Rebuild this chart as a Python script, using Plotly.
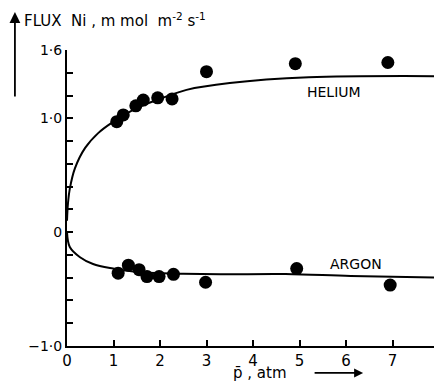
import plotly.graph_objects as go

# Measured points
helium_x = [1.07, 1.21, 1.48, 1.64, 1.95, 2.26, 3.0, 4.91, 6.9]
helium_y = [0.97, 1.03, 1.11, 1.16, 1.18, 1.17, 1.41, 1.48, 1.49]
argon_x = [1.10, 1.32, 1.55, 1.72, 1.98, 2.29, 2.98, 4.94, 6.95]
argon_y = [-0.36, -0.29, -0.33, -0.39, -0.39, -0.37, -0.44, -0.32, -0.465]

# Fitted curves
helium_curve_x = [0, 0.02, 0.06, 0.17, 0.39, 0.67, 0.96, 1.5, 2.0, 2.57, 3.5, 5.2, 8.0]
helium_curve_y = [0.1, 0.25, 0.38, 0.56, 0.74, 0.87, 0.96, 1.09, 1.17, 1.25, 1.31, 1.36, 1.37]
argon_curve_x = [0, 0.06, 0.28, 0.56, 0.99, 1.5, 2.5, 3.3, 4.7, 6.1, 8.0]
argon_curve_y = [0.0, -0.13, -0.22, -0.28, -0.32, -0.35, -0.365, -0.37, -0.368, -0.385, -0.40]

# Ticks
x_ticks = [0, 1, 2, 3, 4, 5, 6, 7, 8]
y_ticks = [-1.0, -0.8, -0.6, -0.4, -0.2, 0, 0.2, 0.4, 0.6, 0.8, 1.0, 1.2, 1.4, 1.6]
y_tick_labels = ["−1·0", "", "", "", "", "0", "", "", "", "", "1·0", "", "", "1·6"]

FONT = "DejaVu Sans"

fig = go.Figure()
fig.add_trace(go.Scatter(x=helium_curve_x, y=helium_curve_y, mode="lines",
                         line=dict(color="black", width=2, shape="spline"), showlegend=False))
fig.add_trace(go.Scatter(x=argon_curve_x, y=argon_curve_y, mode="lines",
                         line=dict(color="black", width=2, shape="spline"), showlegend=False))
fig.add_trace(go.Scatter(x=helium_x, y=helium_y, mode="markers",
                         marker=dict(color="black", size=13), showlegend=False))
fig.add_trace(go.Scatter(x=argon_x, y=argon_y, mode="markers",
                         marker=dict(color="black", size=13), showlegend=False))

# page body has an 8px default margin, so offsets compensate for it
fig.update_layout(
    width=442, height=392,
    margin=dict(l=59, r=11, t=42, b=54),
    paper_bgcolor="white", plot_bgcolor="white",
    font=dict(family=FONT, color="black", size=13),
    xaxis=dict(range=[0, 8], tickvals=x_ticks, ticktext=[str(v) for v in x_ticks],
               automargin=False,
               showgrid=False, zeroline=False, showline=True, linecolor="black", linewidth=2,
               ticks="inside", ticklen=6, tickwidth=1.5, tickcolor="black",
               tickfont=dict(size=15, family=FONT)),
    yaxis=dict(range=[-1.0, 1.6], tickvals=y_ticks, ticktext=y_tick_labels,
               automargin=False, ticklabelstandoff=0,
               showgrid=False, zeroline=False, showline=True, linecolor="black", linewidth=2,
               ticks="inside", ticklen=6, tickwidth=1.5, tickcolor="black",
               tickfont=dict(size=14, family=FONT)),
    annotations=[
        dict(text="FLUX  Ni , m mol  m<sup>-2</sup> s<sup>-1</sup>", xref="paper", yref="paper",
             x=-0.121, y=1.102, xanchor="left", yanchor="middle", showarrow=False,
             font=dict(size=15, family=FONT)),
        dict(text="", xref="paper", yref="paper", x=-0.14, y=1.128, ax=0, ay=86,
             showarrow=True, arrowhead=2, arrowsize=1.2, arrowwidth=1.8, arrowcolor="black"),
        dict(text="p\u0304 , atm", xref="paper", yref="paper", x=0.52, y=-0.091,
             xanchor="center", yanchor="middle", showarrow=False, font=dict(size=15, family=FONT)),
        dict(text="", xref="paper", yref="paper", x=0.796, y=-0.091, ax=-50, ay=0,
             showarrow=True, arrowhead=2, arrowsize=1, arrowwidth=1.8, arrowcolor="black"),
        dict(text="HELIUM", x=5.75, y=1.23, xref="x", yref="y", showarrow=False,
             font=dict(size=14, family=FONT)),
        dict(text="ARGON", x=6.22, y=-0.28, xref="x", yref="y", showarrow=False,
             font=dict(size=14, family=FONT)),
    ],
)

fig.write_html("out.html")
